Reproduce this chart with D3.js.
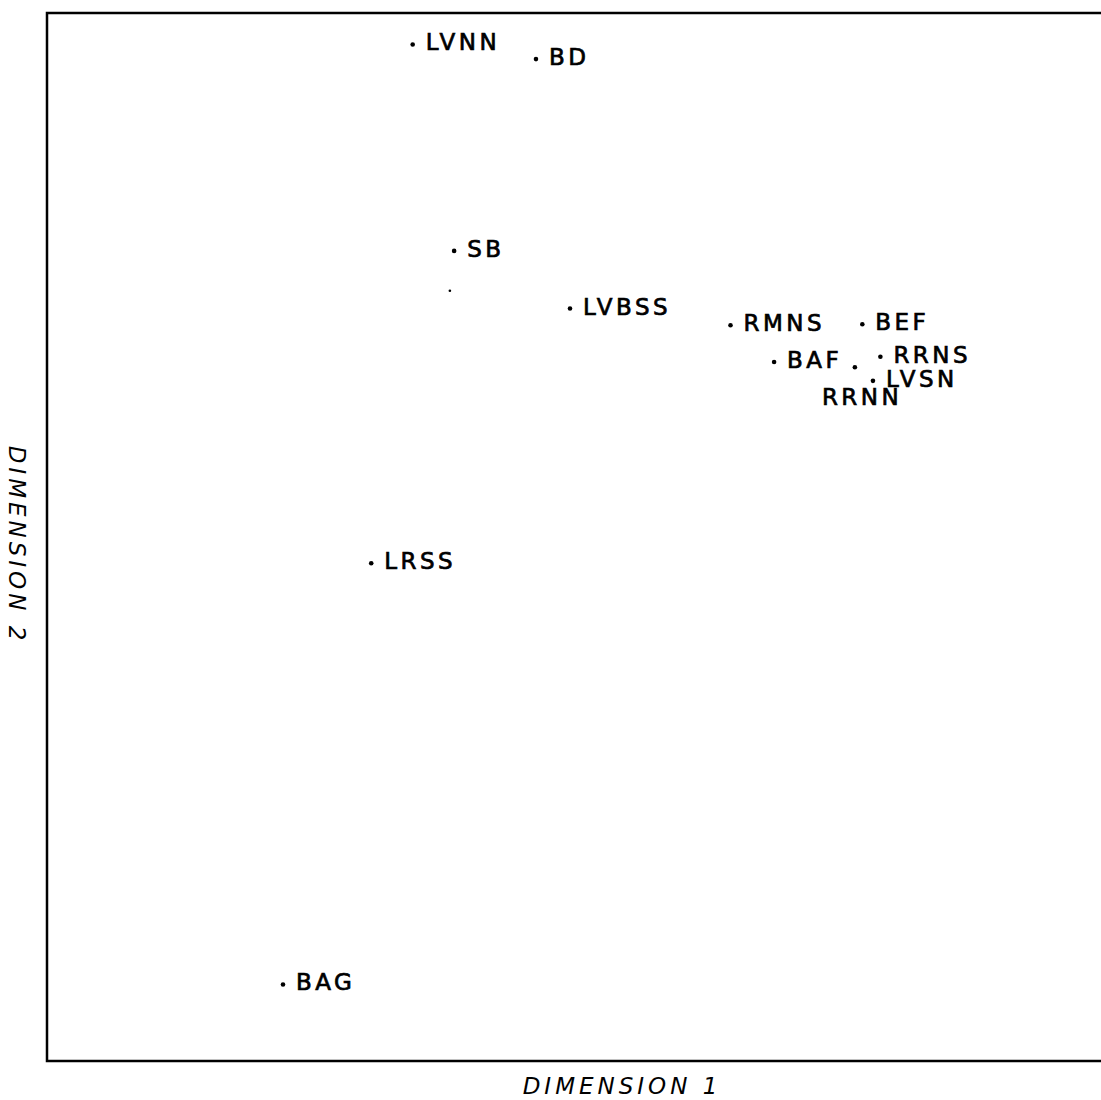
<!DOCTYPE html>
<html>
<head>
<meta charset="utf-8">
<script src="https://cdn.jsdelivr.net/npm/d3@7"></script>
<style>
  body { margin: 0; background: #fff; }
  svg { display: block; }
  .lbl { font-family: "DejaVu Sans", sans-serif; font-size: 23px; letter-spacing: 3.5px; fill: #000; stroke: #000; stroke-width: 0.7px; }
  .title { font-family: "DejaVu Sans", sans-serif; font-size: 23px; letter-spacing: 4px; font-style: italic; fill: #000; }
</style>
</head>
<body>
<svg class="svg" width="1101" height="1100"></svg>
<script>
// MDS configuration (arbitrary 0-10 units)
var names = ['LVNN', 'BD', 'SB', '', 'LVBSS', 'RMNS', 'BEF', 'BAF', 'RRNS', 'RRNN', 'LVSN', 'LRSS', 'BAG'];
var dim1  = [3.44, 4.60, 3.83, 3.79, 4.92, 6.43, 7.67, 6.84, 7.84, 7.60, 7.77, 3.05, 2.22];
var dim2  = [9.70, 9.56, 7.73, 7.35, 7.18, 7.02, 7.03, 6.67, 6.72, 6.62, 6.49, 4.75, 0.73];
var xTitle = 'DIMENSION 1';
var yTitle = 'DIMENSION 2';

var svg = d3.select('.svg');
var margin = {left: 47, top: 13, right: -9, bottom: 39};
var W = 1101, H = 1100;

var x = d3.scaleLinear().domain([0, 10]).range([margin.left, W - margin.right]);
var y = d3.scaleLinear().domain([0, 10]).range([H - margin.bottom, margin.top]);

// frame (right side runs off the page)
svg.append('rect')
    .attr('x', x(0)).attr('y', y(10))
    .attr('width', x(10) - x(0)).attr('height', y(0) - y(10))
    .attr('fill', 'none').attr('stroke', '#000').attr('stroke-width', 2.5);

var pts = names.map(function(n, i) { return {name: n, d1: dim1[i], d2: dim2[i]}; });

var g = svg.append('g').attr('class', 'points');
g.selectAll('circle').data(pts).enter().append('circle')
    .attr('cx', function(d) { return x(d.d1); })
    .attr('cy', function(d) { return y(d.d2); })
    .attr('r', function(d) { return d.name ? 2.3 : 1.3; })
    .attr('fill', '#000');

// label goes to the right of the dot, except RRNN which was written below-left
g.selectAll('text').data(pts.filter(function(d) { return d.name; })).enter().append('text')
    .attr('class', 'lbl')
    .attr('x', function(d) { return d.name == 'RRNN' ? x(d.d1) - 33 : x(d.d1) + 13; })
    .attr('y', function(d) { return d.name == 'RRNN' ? y(d.d2) + 38 : y(d.d2) + 6; })
    .text(function(d) { return d.name; });

svg.append('text').attr('class', 'title')
    .attr('x', 622).attr('y', 1094)
    .attr('text-anchor', 'middle')
    .text(xTitle);

svg.append('text').attr('class', 'title')
    .attr('transform', 'translate(9,' + 545 + ') rotate(90)')
    .attr('text-anchor', 'middle')
    .text(yTitle);
</script>
</body>
</html>
